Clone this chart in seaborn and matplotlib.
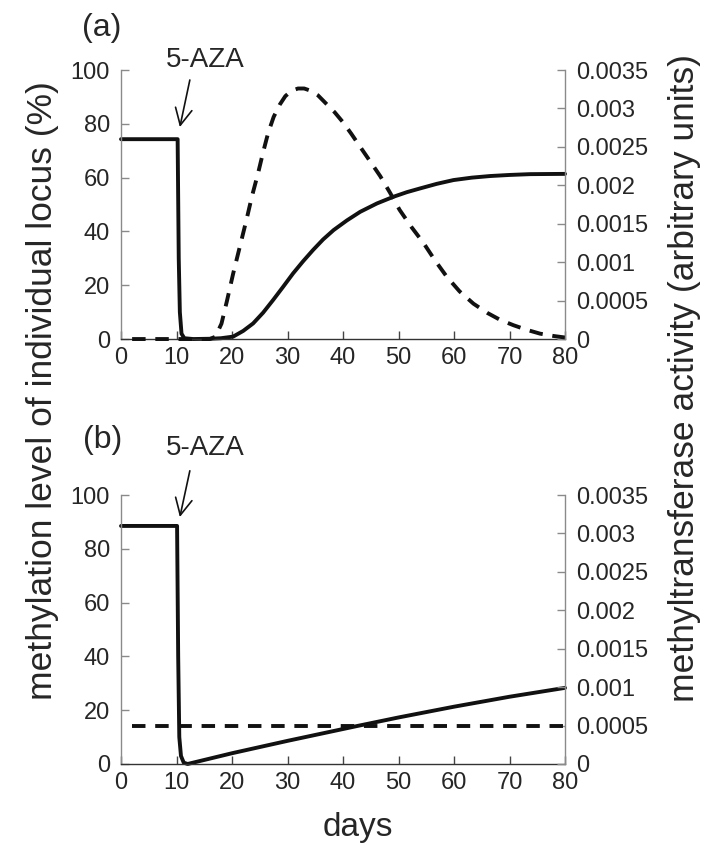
import matplotlib
matplotlib.use("Agg")
import matplotlib.pyplot as plt
import seaborn as sns
from matplotlib.ticker import FuncFormatter

# --- data ---
# panel (a): methylation level (%) on left axis
days_a = [0, 10.2, 10.4, 10.6, 10.9, 11.4, 13, 16, 18, 20.2, 22, 23.8, 25.6, 27.4,
          29.2, 31, 32.8, 34.6, 36.4, 38.3, 40.7, 43.1, 46.1, 49.1, 51.5, 53.9,
          56.9, 59.9, 63.2, 66.5, 70, 73.7, 80]
meth_a = [74.3, 74.3, 30, 10, 2, 0.3, 0, 0.1, 0.3, 0.9, 3, 5.8, 9.8, 14.5,
          19.4, 24.4, 28.9, 33.1, 37, 40.5, 44.1, 47.3, 50.4, 52.9, 54.6, 56,
          57.7, 59.1, 60, 60.6, 61, 61.3, 61.4]
# panel (a): methyltransferase activity on right axis
enz_days_a = [2, 16, 17, 18.1, 19.1, 20.2, 21.4, 22.6, 23.6, 24.7, 25.6, 26.5, 27.5,
              28.6, 29.6, 30.7, 31.9, 33, 34.2, 35.5, 37, 38.5, 40, 41.5, 43.1, 45,
              46.7, 48.5, 50.2, 52.3, 54.5, 56.6, 58.7, 61, 63.5, 66, 68.3, 70.7,
              73.1, 75.5, 77.9, 80]
enz_a = [0, 0, 0.00003, 0.0002, 0.0005, 0.00085, 0.0012, 0.00155, 0.00186, 0.00216,
         0.00243, 0.00268, 0.00289, 0.00305, 0.00316, 0.00323, 0.00326, 0.00326,
         0.00323, 0.00317, 0.00306, 0.00295, 0.00282, 0.00267, 0.0025, 0.0023,
         0.00212, 0.0019, 0.00168, 0.00146, 0.00125, 0.00102, 0.00081, 0.00062,
         0.00046, 0.00034, 0.00025, 0.00018, 0.00012, 0.00007, 0.00004, 0.00002]

# panel (b)
days_b = [0, 10.1, 10.3, 10.5, 10.8, 11.3, 12, 20, 30, 40, 42.5, 50, 60, 70, 80]
meth_b = [88.5, 88.5, 40, 10, 3, 0.5, 0, 4.0, 8.6, 13, 14.1, 17.3, 21.3, 25, 28.3]
enz_days_b = [2, 80]
enz_b = [0.0005, 0.0005]

x_ticks = list(range(0, 81, 10))
left_ticks = list(range(0, 101, 20))
right_ticks = [0, 0.0005, 0.001, 0.0015, 0.002, 0.0025, 0.003, 0.0035]

sns.set_style("ticks")
plt.rcParams['font.family'] = ['Liberation Sans', 'DejaVu Sans']
plt.rcParams['lines.scale_dashes'] = False

GRAY = '#8a8a8a'
INK = '#111111'
DASH = (0, (9.7, 7.0))
fig = plt.figure(figsize=(7.04, 8.44), dpi=100)


def setup(ax, ax2):
    ax.set_xlim(0, 80)
    ax.set_ylim(0, 100)
    ax2.set_ylim(0, 0.0035)
    ax.set_xticks(x_ticks)
    ax.set_yticks(left_ticks)
    ax2.set_yticks(right_ticks)
    ax2.yaxis.set_major_formatter(FuncFormatter(lambda v, p: f"{v:g}"))
    for a in (ax, ax2):
        a.spines['top'].set_visible(False)
    ax.spines['right'].set_visible(False)
    for s in ('left', 'bottom', 'top'):
        ax2.spines[s].set_visible(False)
    ax.spines['left'].set_color(GRAY)
    ax.spines['left'].set_linewidth(1.0)
    ax2.spines['right'].set_color(GRAY)
    ax2.spines['right'].set_linewidth(1.0)
    ax.spines['bottom'].set_color('#333333')
    ax.spines['bottom'].set_linewidth(1.0)
    ax.tick_params(axis='y', direction='in', length=6, width=1, color=GRAY,
                   labelsize=17, pad=8)
    ax.tick_params(axis='x', direction='in', length=6, width=1, color='#444444',
                   labelsize=17, pad=6)
    ax2.tick_params(axis='y', direction='in', length=6, width=1, color=GRAY,
                    labelsize=17, pad=8)
    ax.set_xlabel('')
    ax.set_ylabel('')
    ax2.set_ylabel('')


arrow = dict(arrowstyle='->, head_length=0.6, head_width=0.3', mutation_scale=20,
             lw=1.2, color=INK, shrinkA=0, shrinkB=0)

# ---------- panel (a) ----------
ax_a = fig.add_axes([0.1719, 0.5983, 0.6307, 0.3187])
ax_a2 = ax_a.twinx()
sns.lineplot(x=days_a, y=meth_a, ax=ax_a, color=INK, lw=2.8,
             estimator=None, sort=False, clip_on=False)
sns.lineplot(x=enz_days_a, y=enz_a, ax=ax_a2, color=INK, lw=2.8,
             estimator=None, sort=False, clip_on=False, linestyle=DASH)
setup(ax_a, ax_a2)
ax_a.text(-3.4, 115.6, '(a)', fontsize=23, ha='center', va='center', clip_on=False)
ax_a.text(15.1, 103.7, '5-AZA', fontsize=20, ha='center', va='center')
ax_a.annotate('', xy=(10.6, 78.8), xytext=(12.4, 96.3), arrowprops=arrow)

# ---------- panel (b) ----------
ax_b = fig.add_axes([0.1719, 0.0948, 0.6307, 0.3187])
ax_b2 = ax_b.twinx()
sns.lineplot(x=days_b, y=meth_b, ax=ax_b, color=INK, lw=2.8,
             estimator=None, sort=False, clip_on=False)
sns.lineplot(x=enz_days_b, y=enz_b, ax=ax_b2, color=INK, lw=2.8,
             estimator=None, sort=False, clip_on=False, linestyle=DASH)
setup(ax_b, ax_b2)
ax_b.text(-3.4, 120.4, '(b)', fontsize=23, ha='center', va='center', clip_on=False)
ax_b.text(15.1, 117.5, '5-AZA', fontsize=20, ha='center', va='center', clip_on=False)
ax_b.annotate('', xy=(10.6, 91.8), xytext=(12.4, 109), arrowprops=arrow,
              annotation_clip=False)

# shared labels
fig.text(0.509, 0.019, 'days', fontsize=24, ha='center', va='center')
fig.text(0.06, 0.537, 'methylation level of individual locus (%)', rotation=90,
         fontsize=25.5, ha='center', va='center')
fig.text(0.972, 0.552, 'methyltransferase activity (arbitrary units)', rotation=90,
         fontsize=25.5, ha='center', va='center')

plt.savefig('out.png', dpi=100)
